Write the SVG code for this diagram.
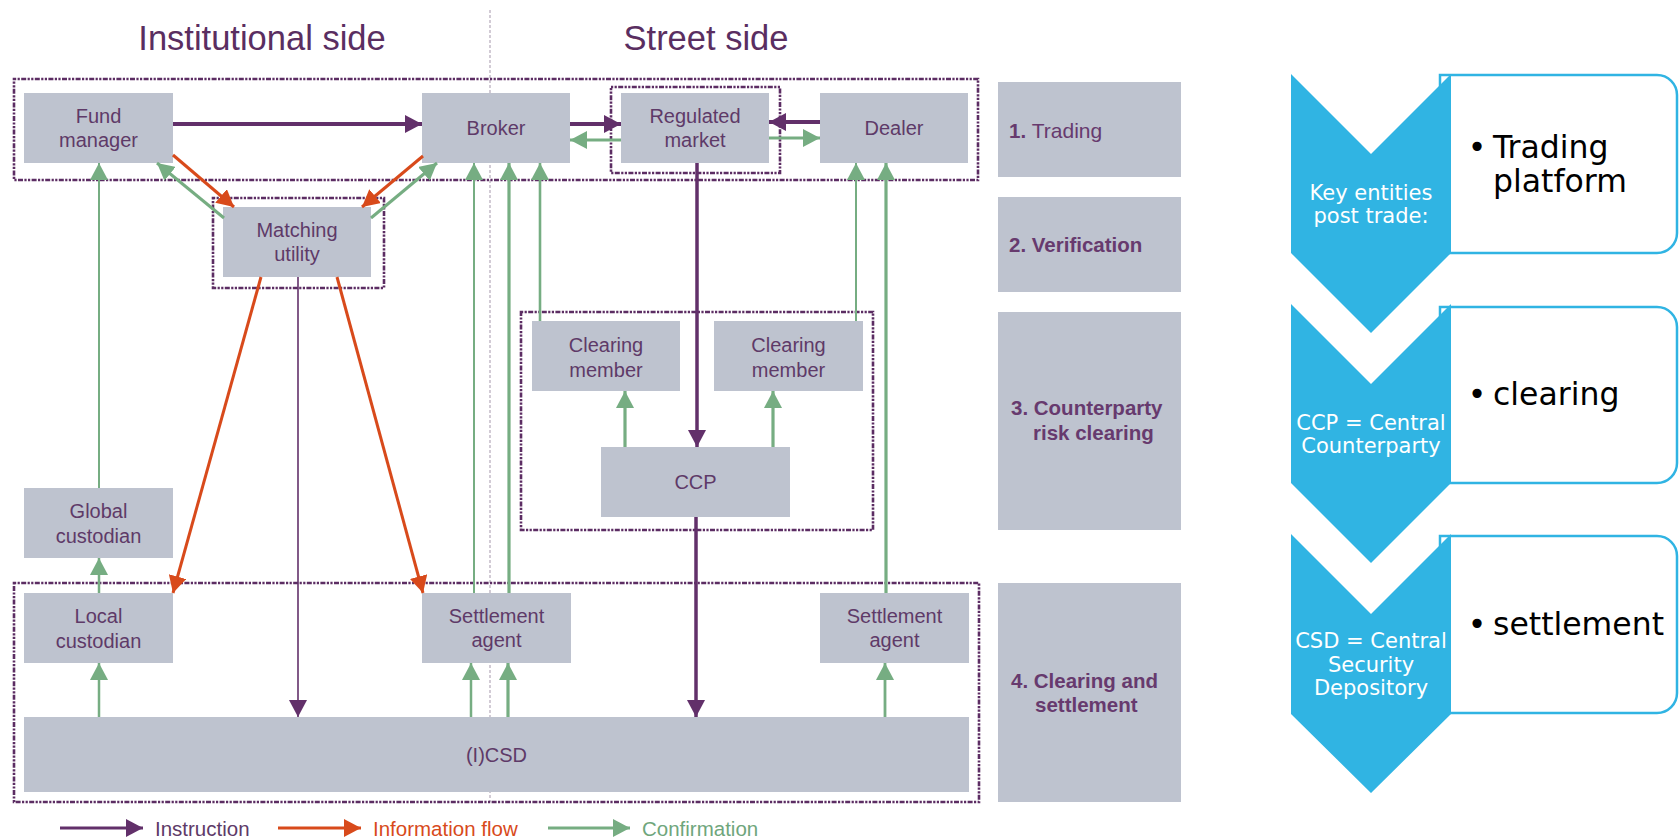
<svg xmlns="http://www.w3.org/2000/svg" width="1679" height="839" viewBox="0 0 1679 839">
  <style>
    .box { fill: #bec3cf; }
    .zone { fill: none; stroke: #5c2d63; stroke-width: 2.6; stroke-dasharray: 2.2 1.4 2.2 1.4 5 1.4; }
    .lbl { font-family: "Liberation Sans", Arial, sans-serif; font-size: 20px; fill: #5e3a68; text-anchor: middle; }
    .title { font-family: "Liberation Sans", Arial, sans-serif; font-size: 34.5px; fill: #5a2e61; text-anchor: middle; }
    .stage { font-family: "Liberation Sans", Arial, sans-serif; font-size: 20.5px; fill: #673a6e; font-weight: bold; }
    .ins { fill: none; stroke: #62306a; marker-end: url(#aP); }
    .inf { fill: none; stroke: #d84a1b; stroke-width: 3; marker-end: url(#aO); }
    .con { fill: none; stroke: #76ad82; marker-end: url(#aG); }
    .chev { fill: #30b4e3; }
    .panel { fill: #ffffff; stroke: #30b4e3; stroke-width: 2.5; }
    .ctext { font-family: "DejaVu Sans", Verdana, sans-serif; font-size: 21px; fill: #ffffff; text-anchor: middle; }
    .btext { font-family: "DejaVu Sans", Verdana, sans-serif; font-size: 31.5px; fill: #000000; }
    .leg { font-family: "Liberation Sans", Arial, sans-serif; font-size: 20.5px; }
  </style>
  <defs>
    <marker id="aP" markerUnits="userSpaceOnUse" markerWidth="18" markerHeight="18" refX="17" refY="9" orient="auto">
      <path d="M0,0 L17,9 L0,18 Z" fill="#62306a"/>
    </marker>
    <marker id="aO" markerUnits="userSpaceOnUse" markerWidth="18" markerHeight="18" refX="17" refY="9" orient="auto">
      <path d="M0,0 L17,9 L0,18 Z" fill="#d84a1b"/>
    </marker>
    <marker id="aG" markerUnits="userSpaceOnUse" markerWidth="18" markerHeight="18" refX="17" refY="9" orient="auto">
      <path d="M0,0 L17,9 L0,18 Z" fill="#76ad82"/>
    </marker>
  </defs>

  <rect x="0" y="0" width="1679" height="839" fill="#ffffff"/>

  <!-- column headings and divider -->
  <text class="title" x="262" y="50">Institutional side</text>
  <text class="title" x="706" y="50">Street side</text>
  <line x1="490" y1="10" x2="490" y2="802" stroke="#b5a9ba" stroke-width="1.2" stroke-dasharray="3 2"/>

  <!-- grouping zones -->
  <g id="zones">
    <rect class="zone" x="14" y="79" width="964" height="101"/>
    <rect class="zone" x="611" y="87" width="169" height="86"/>
    <rect class="zone" x="213" y="198" width="171" height="90"/>
    <rect class="zone" x="521" y="312" width="352" height="218"/>
    <rect class="zone" x="14" y="583" width="965" height="219"/>
  </g>

  <!-- entities -->
  <g id="fund-manager">
    <rect class="box" x="24" y="93" width="149" height="70"/>
    <text class="lbl" x="98.5" y="123">Fund</text>
    <text class="lbl" x="98.5" y="147">manager</text>
  </g>
  <g id="broker">
    <rect class="box" x="422" y="93" width="148" height="70"/>
    <text class="lbl" x="496" y="135">Broker</text>
  </g>
  <g id="regulated-market">
    <rect class="box" x="621" y="93" width="148" height="70"/>
    <text class="lbl" x="695" y="123">Regulated</text>
    <text class="lbl" x="695" y="147">market</text>
  </g>
  <g id="dealer">
    <rect class="box" x="820" y="93" width="148" height="70"/>
    <text class="lbl" x="894" y="135">Dealer</text>
  </g>
  <g id="matching-utility">
    <rect class="box" x="223" y="207" width="148" height="70"/>
    <text class="lbl" x="297" y="237">Matching</text>
    <text class="lbl" x="297" y="261">utility</text>
  </g>
  <g id="clearing-member-1">
    <rect class="box" x="532" y="321" width="148" height="70"/>
    <text class="lbl" x="606" y="352">Clearing</text>
    <text class="lbl" x="606" y="377">member</text>
  </g>
  <g id="clearing-member-2">
    <rect class="box" x="714" y="321" width="149" height="70"/>
    <text class="lbl" x="788.5" y="352">Clearing</text>
    <text class="lbl" x="788.5" y="377">member</text>
  </g>
  <g id="ccp">
    <rect class="box" x="601" y="447" width="189" height="70"/>
    <text class="lbl" x="695.5" y="489">CCP</text>
  </g>
  <g id="global-custodian">
    <rect class="box" x="24" y="488" width="149" height="70"/>
    <text class="lbl" x="98.5" y="518">Global</text>
    <text class="lbl" x="98.5" y="543">custodian</text>
  </g>
  <g id="local-custodian">
    <rect class="box" x="24" y="593" width="149" height="70"/>
    <text class="lbl" x="98.5" y="623">Local</text>
    <text class="lbl" x="98.5" y="648">custodian</text>
  </g>
  <g id="settlement-agent-1">
    <rect class="box" x="422" y="593" width="149" height="70"/>
    <text class="lbl" x="496.5" y="623">Settlement</text>
    <text class="lbl" x="496.5" y="647">agent</text>
  </g>
  <g id="settlement-agent-2">
    <rect class="box" x="820" y="593" width="149" height="70"/>
    <text class="lbl" x="894.5" y="623">Settlement</text>
    <text class="lbl" x="894.5" y="647">agent</text>
  </g>
  <g id="icsd">
    <rect class="box" x="24" y="717" width="945" height="75"/>
    <text class="lbl" x="496.5" y="762">(I)CSD</text>
  </g>

  <!-- stage labels -->
  <g id="stage-1">
    <rect class="box" x="998" y="82" width="183" height="95"/>
    <text class="stage" x="1009" y="138">1. <tspan font-weight="normal" font-size="21px">Trading</tspan></text>
  </g>
  <g id="stage-2">
    <rect class="box" x="998" y="197" width="183" height="95"/>
    <text class="stage" x="1009" y="252">2. Verification</text>
  </g>
  <g id="stage-3">
    <rect class="box" x="998" y="312" width="183" height="218"/>
    <text class="stage" x="1011" y="415">3. Counterparty</text>
    <text class="stage" x="1033" y="440">risk clearing</text>
  </g>
  <g id="stage-4">
    <rect class="box" x="998" y="583" width="183" height="219"/>
    <text class="stage" x="1011" y="688">4. Clearing and</text>
    <text class="stage" x="1035" y="712">settlement</text>
  </g>

  <!-- flows -->
  <g id="connectors">
    <!-- instructions -->
    <path class="ins" stroke-width="4" d="M173,124 H422"/>
    <path class="ins" stroke-width="4" d="M570,124 H621"/>
    <path class="ins" stroke-width="4" d="M820,122 H769"/>
    <path class="ins" stroke-width="3.5" d="M697,163 V447"/>
    <path class="ins" stroke-width="3.5" d="M696,517 V717"/>
    <path class="ins" stroke-width="1.6" d="M298,277 V717"/>
    <!-- information flow -->
    <path class="inf" d="M173,155 L234,207"/>
    <path class="inf" d="M423,156 L362,207"/>
    <path class="inf" d="M261,277 L173,593"/>
    <path class="inf" d="M337,277 L423,593"/>
    <!-- confirmations -->
    <path class="con" stroke-width="3" d="M621,140 H570"/>
    <path class="con" stroke-width="3" d="M769,138 H820"/>
    <path class="con" stroke-width="3" d="M224,218 L157,163"/>
    <path class="con" stroke-width="3" d="M371,218 L437,163"/>
    <path class="con" stroke-width="2" d="M99,488 V163"/>
    <path class="con" stroke-width="2.5" d="M99,593 V558"/>
    <path class="con" stroke-width="2.5" d="M99,717 V663"/>
    <path class="con" stroke-width="2" d="M474,593 V163"/>
    <path class="con" stroke-width="3.2" d="M509,593 V163"/>
    <path class="con" stroke-width="2.6" d="M540,321 V163"/>
    <path class="con" stroke-width="2" d="M856,321 V163"/>
    <path class="con" stroke-width="3.2" d="M886,593 V163"/>
    <path class="con" stroke-width="3.2" d="M625,447 V391"/>
    <path class="con" stroke-width="3.2" d="M773,447 V391"/>
    <path class="con" stroke-width="2.5" d="M471,717 V663"/>
    <path class="con" stroke-width="3.2" d="M508,717 V663"/>
    <path class="con" stroke-width="2.8" d="M885,717 V663"/>
  </g>

  <!-- legend -->
  <g id="legend">
    <path class="ins" stroke-width="3" d="M60,828 H143"/>
    <text class="leg" x="155" y="836" fill="#5e3a68">Instruction</text>
    <path class="inf" d="M278,828 H361"/>
    <text class="leg" x="373" y="836" fill="#d84a1b">Information flow</text>
    <path class="con" stroke-width="3" d="M548,828 H630"/>
    <text class="leg" x="642" y="836" fill="#6fa67c">Confirmation</text>
  </g>

  <!-- post-trade summary panel -->
  <g id="summary-trading">
    <path class="panel" d="M1440,75 H1657 A20,20 0 0 1 1677,95 V233 A20,20 0 0 1 1657,253 H1440 Z"/>
    <path class="chev" d="M1291,74 L1371,154 L1451,74 L1451,253 L1371,333 L1291,253 Z"/>
    <text class="ctext" x="1371" y="200">Key entities</text>
    <text class="ctext" x="1371" y="223">post trade:</text>
    <text class="btext" x="1477" y="158" text-anchor="middle">•</text>
    <text class="btext" x="1493" y="158">Trading</text>
    <text class="btext" x="1493" y="192">platform</text>
  </g>
  <g id="summary-clearing">
    <path class="panel" d="M1440,307 H1657 A20,20 0 0 1 1677,327 V463 A20,20 0 0 1 1657,483 H1440 Z"/>
    <path class="chev" d="M1291,304 L1371,384 L1451,304 L1451,483 L1371,563 L1291,483 Z"/>
    <text class="ctext" x="1371" y="430">CCP = Central</text>
    <text class="ctext" x="1371" y="453">Counterparty</text>
    <text class="btext" x="1477" y="405" text-anchor="middle">•</text>
    <text class="btext" x="1493" y="405">clearing</text>
  </g>
  <g id="summary-settlement">
    <path class="panel" d="M1440,536 H1657 A20,20 0 0 1 1677,556 V693 A20,20 0 0 1 1657,713 H1440 Z"/>
    <path class="chev" d="M1291,534 L1371,614 L1451,534 L1451,714 L1371,793 L1291,714 Z"/>
    <text class="ctext" x="1371" y="648">CSD = Central</text>
    <text class="ctext" x="1371" y="672">Security</text>
    <text class="ctext" x="1371" y="695">Depository</text>
    <text class="btext" x="1477" y="635" text-anchor="middle">•</text>
    <text class="btext" x="1493" y="635">settlement</text>
  </g>
</svg>
